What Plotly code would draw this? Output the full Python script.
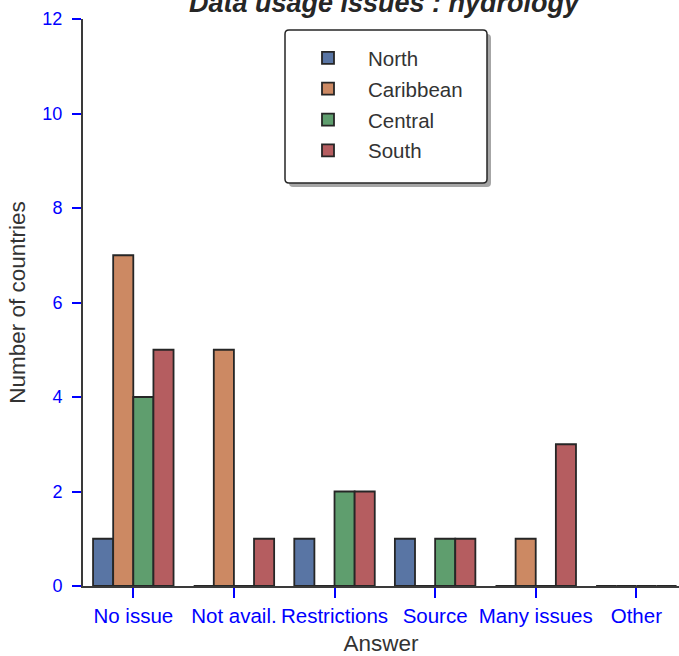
import plotly.graph_objects as go

categories = ["No issue", "Not avail.", "Restrictions", "Source", "Many issues", "Other"]
regions = ["North", "Caribbean", "Central", "South"]
north = [1, 0, 1, 1, 0, 0]
caribbean = [7, 5, 0, 0, 1, 0]
central = [4, 0, 2, 1, 0, 0]
south = [5, 1, 2, 1, 3, 0]
yticks = [0, 2, 4, 6, 8, 10, 12]

colors = ["#5975a4", "#cc8963", "#5f9e6e", "#b55d60"]
series = [north, caribbean, central, south]

W, H = 679, 656
ML, MR, MT, MB = 83, 0, 19, 70
plot_w = W - ML - MR
plot_h = H - MT - MB


def px_x(p):
    return (p - ML) / plot_w


def px_y(p):
    return 1 - (p - MT) / plot_h


def rounded_rect(x0, y0, x1, y1, r):
    # pixel coords -> paper path with rounded corners
    rx, ry = r / plot_w, r / plot_h
    X0, X1 = px_x(x0), px_x(x1)
    Y0, Y1 = px_y(y0), px_y(y1)  # Y0 top, Y1 bottom
    return (f"M {X0+rx},{Y0} L {X1-rx},{Y0} Q {X1},{Y0} {X1},{Y0-ry} "
            f"L {X1},{Y1+ry} Q {X1},{Y1} {X1-rx},{Y1} L {X0+rx},{Y1} "
            f"Q {X0},{Y1} {X0},{Y1+ry} L {X0},{Y0-ry} Q {X0},{Y0} {X0+rx},{Y0} Z")


fig = go.Figure()
for name, vals, c in zip(regions, series, colors):
    fig.add_trace(go.Bar(
        x=categories, y=vals, name=name, legendgroup=name,
        marker=dict(color=c, line=dict(color="#262626", width=1.8)),
    ))

fig.update_layout(
    width=W, height=H,
    margin=dict(l=ML, r=MR, t=MT, b=MB, pad=0, autoexpand=False),
    paper_bgcolor="white", plot_bgcolor="white",
    barmode="group", bargap=0.2, bargroupgap=0,
    font=dict(family="Liberation Sans, Arial, sans-serif", size=20, color="#333333"),
    showlegend=True,
    legend=dict(
        x=px_x(288), y=px_y(38), xanchor="left", yanchor="top",
        bgcolor="rgba(0,0,0,0)", borderwidth=0,
        font=dict(size=20.5, color="#333333"),
        itemwidth=70, traceorder="grouped", tracegroupgap=1.2,
    ),
    xaxis=dict(
        range=[-0.5, 5.424], showgrid=False, zeroline=False, automargin=False,
        showline=True, linecolor="#3a3a3a", linewidth=2,
        ticks="outside", tickcolor="blue", ticklen=10, tickwidth=2,
        ticklabelstandoff=0,
        tickfont=dict(color="blue", size=20.5),
        title=dict(text="Answer", font=dict(size=22.5, color="#333333"), standoff=11),
    ),
    yaxis=dict(
        range=[0, 12], tickvals=yticks, showgrid=False, zeroline=False, automargin=False,
        showline=True, linecolor="#3a3a3a", linewidth=2,
        ticks="outside", tickcolor="blue", ticklen=9, tickwidth=2,
        ticklabelstandoff=6,
        tickfont=dict(color="blue", size=18),
        title=dict(text="Number of countries", font=dict(size=22.5, color="#333333"), standoff=10),
    ),
    shapes=[
        dict(type="path", xref="paper", yref="paper", path=rounded_rect(289, 34, 491, 187, 4),
             fillcolor="rgba(0,0,0,0.35)", line=dict(width=0), layer="above"),
        dict(type="path", xref="paper", yref="paper", path=rounded_rect(285, 30, 487, 183, 4),
             fillcolor="white", line=dict(color="#262626", width=1.5), layer="above"),
    ],
)

fig.add_annotation(
    text="<b><i>Data usage issues : hydrology</i></b>",
    xref="paper", yref="paper", x=px_x(385), y=1,
    xanchor="center", yanchor="bottom", yshift=-1, showarrow=False,
    font=dict(size=27, color="#262626"),
)

fig.write_html(
    "out.html",
    config={"displayModeBar": False},
    post_script="document.body.style.margin='0';document.body.style.overflow='hidden';",
)
